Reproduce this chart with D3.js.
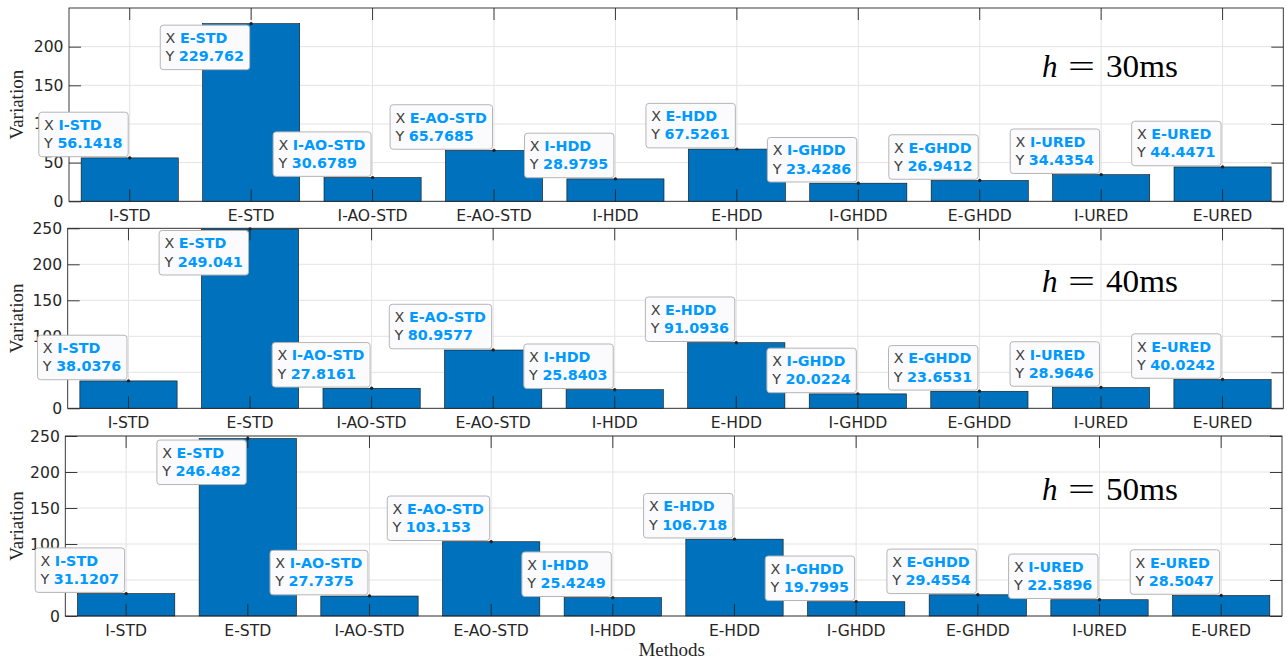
<!DOCTYPE html>
<html>
<head>
<meta charset="utf-8">
<script src="https://cdn.jsdelivr.net/npm/d3@7"></script>
<style>
  html, body { margin: 0; padding: 0; background: #fff; }
  svg { display: block; }
</style>
</head>
<body>
<svg id="chart" width="1287" height="663"></svg>
<script>
// ---- data ----
const categories = ["I-STD", "E-STD", "I-AO-STD", "E-AO-STD", "I-HDD", "E-HDD", "I-GHDD", "E-GHDD", "I-URED", "E-URED"];
const values30 = [56.1418, 229.762, 30.6789, 65.7685, 28.9795, 67.5261, 23.4286, 26.9412, 34.4354, 44.4471];
const values40 = [38.0376, 249.041, 27.8161, 80.9577, 25.8403, 91.0936, 20.0224, 23.6531, 28.9646, 40.0242];
const values50 = [31.1207, 246.482, 27.7375, 103.153, 25.4249, 106.718, 19.7995, 29.4554, 22.5896, 28.5047];
const yTicks30 = [0, 50, 100, 150, 200];
const yTicks40 = [0, 50, 100, 150, 200, 250];
const yTicks50 = [0, 50, 100, 150, 200, 250];
const periods = ["30", "40", "50"];
const yLabel = "Variation";
const xLabel = "Methods";

// ---- layout ----
const panels = [
  { values: values30, ticks: yTicks30, period: periods[0], top: 8, bottom: 201.3, left: 69, right: 1283.3 },
  { values: values40, ticks: yTicks40, period: periods[1], top: 228.3, bottom: 408.3, left: 67.7, right: 1283.3 },
  { values: values50, ticks: yTicks50, period: periods[2], top: 436, bottom: 616, left: 65.3, right: 1282 }
];
const axisColor = "#262626";
const barColor = "#0072BD";
const tipBlue = "#0099FF";
const tickFont = "DejaVu Sans, sans-serif";
const serif = "Liberation Serif, 'Times New Roman', serif";

const svg = d3.select("#chart");

panels.forEach((p, idx) => {
  const g = svg.append("g");
  const x = d3.scaleBand().domain(categories).range([p.left, p.right]).paddingInner(0.2).paddingOuter(0.1);
  const y = d3.scaleLinear().domain([0, 250]).range([p.bottom, p.top]);
  const W = p.right - p.left, H = p.bottom - p.top;
  const cx = d => x(d) + x.bandwidth() / 2;

  // grid
  const grid = g.append("g").attr("class", "grid");
  grid.selectAll("line.h").data(p.ticks).join("line")
    .attr("x1", p.left).attr("x2", p.right)
    .attr("y1", d => y(d)).attr("y2", d => y(d))
    .attr("stroke", "#e3e3e3").attr("stroke-width", 1);
  grid.selectAll("line.v").data(categories).join("line")
    .attr("x1", d => cx(d)).attr("x2", d => cx(d))
    .attr("y1", p.top).attr("y2", p.bottom)
    .attr("stroke", "#e3e3e3").attr("stroke-width", 1);

  // bars
  g.append("g").selectAll("rect").data(p.values).join("rect")
    .attr("x", (d, i) => x(categories[i]))
    .attr("width", x.bandwidth())
    .attr("y", d => y(d))
    .attr("height", d => y(0) - y(d))
    .attr("fill", barColor)
    .attr("stroke", "#111").attr("stroke-width", 0.6);

  // axes
  const tickLen = 12;
  const left = g.append("g").attr("transform", `translate(${p.left},0)`)
    .call(d3.axisLeft(y).tickValues(p.ticks).tickSize(-tickLen).tickSizeOuter(0).tickPadding(5.5));
  const right = g.append("g").attr("transform", `translate(${p.right},0)`)
    .call(d3.axisRight(y).tickValues(p.ticks).tickSize(-tickLen).tickSizeOuter(0).tickFormat(""));
  const xAxisB = d3.axisBottom(x).tickSize(-tickLen).tickSizeOuter(0).tickPadding(9);
  const bottom = g.append("g").attr("transform", `translate(0,${p.bottom})`).call(xAxisB);
  const top = g.append("g").attr("transform", `translate(0,${p.top})`)
    .call(d3.axisTop(x).tickSize(-tickLen).tickSizeOuter(0).tickFormat(""));
  [left, right, bottom, top].forEach(a => {
    a.select(".domain").remove();
    a.selectAll(".tick line").attr("stroke", axisColor).attr("stroke-width", 0.9);
    a.selectAll(".tick text").attr("fill", axisColor).style("font-family", tickFont).style("font-size", "15.6px");
  });

  // border
  g.append("rect").attr("x", p.left).attr("y", p.top).attr("width", W).attr("height", H)
    .attr("fill", "none").attr("stroke", axisColor).attr("stroke-width", 0.9);

  // y label
  g.append("text")
    .attr("transform", `translate(17,${(p.top + p.bottom) / 2}) rotate(-90)`)
    .attr("text-anchor", "middle").attr("dy", "0.32em")
    .attr("fill", axisColor).style("font-family", serif).style("font-size", "19px")
    .text(yLabel);

  // h = XXms label
  const hy = y(161);
  const hg = g.append("g").attr("fill", "#000").style("font-family", serif).style("font-size", "31px");
  hg.append("text").attr("x", 1042).attr("y", hy).style("font-style", "italic").text("h");
  hg.append("text").attr("x", 1068).attr("y", hy).attr("textLength", 27).attr("lengthAdjust", "spacingAndGlyphs").text("=");
  hg.append("text").attr("x", 1106).attr("y", hy).attr("textLength", 72).attr("lengthAdjust", "spacingAndGlyphs").text(p.period + "ms");

  // data tips
  const tips = g.append("g");
  p.values.forEach((v, i) => {
    const cat = categories[i];
    const px = cx(cat), py = y(v);
    const tg = tips.append("g");
    const box = tg.append("rect");
    const t1 = tg.append("text").style("font-family", tickFont).style("font-size", "14.3px");
    t1.append("tspan").attr("fill", "#404040").text("X ");
    t1.append("tspan").attr("fill", tipBlue).style("font-weight", "bold").text(cat);
    const t2 = tg.append("text").style("font-family", tickFont).style("font-size", "14.3px");
    t2.append("tspan").attr("fill", "#404040").text("Y ");
    t2.append("tspan").attr("fill", tipBlue).style("font-weight", "bold").text(String(v));
    const tw = Math.max(t1.node().getComputedTextLength(), t2.node().getComputedTextLength());
    const bw = tw + 11, bh = 44.5;
    const bx = px - 1.5 - bw;
    let by = py - 1.2 - bh;
    if (by < p.top) by = py + 1.5;
    box.attr("x", bx).attr("y", by).attr("width", bw).attr("height", bh)
      .attr("rx", 3).attr("fill", "#fbfbfe").attr("stroke", "#b5b5b5").attr("stroke-width", 1);
    t1.attr("x", bx + 5.3).attr("y", by + 17.8);
    t2.attr("x", bx + 5.3).attr("y", by + 36.1);
    tg.append("circle").attr("cx", px).attr("cy", py).attr("r", 1.7).attr("fill", "#222");
  });
});

// x label
svg.append("text")
  .attr("x", (panels[2].left + panels[2].right) / 2 - 2).attr("y", 656)
  .attr("text-anchor", "middle").attr("fill", axisColor)
  .style("font-family", serif).style("font-size", "19px")
  .text(xLabel);
</script>
</body>
</html>
